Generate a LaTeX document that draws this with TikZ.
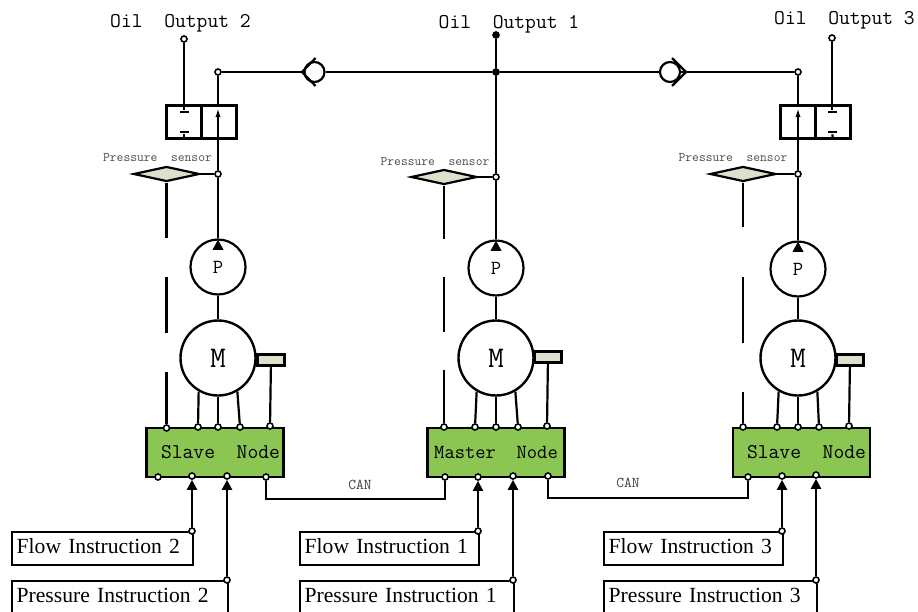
\documentclass[tikz,border=0pt]{standalone}
\usepackage{fontspec}
\setmainfont{Liberation Serif}
\usetikzlibrary{shapes.geometric,arrows.meta}
\definecolor{nodegreen}{RGB}{139,197,82}
\definecolor{sensorgrey}{RGB}{221,224,205}
\begin{document}
\begin{tikzpicture}[x=1pt,y=-1pt,line width=2.2pt]
        \tikzset{
            ctrl/.style={draw,line width=2.4pt,fill=nodegreen,minimum width=137pt,minimum height=49pt,inner sep=0pt,font=\ttfamily\fontsize{21}{21}\selectfont},
            instr/.style={draw,line width=2.4pt,anchor=north west,minimum height=33pt,inner xsep=4.5pt,inner ysep=0pt,align=left,text height=14pt,text depth=4pt,font=\fontsize{21.6}{21.6}\selectfont},
            pump/.style={circle,draw,fill=white,minimum size=55pt,inner sep=0pt,font=\ttfamily\fontsize{20}{20}\selectfont},
            motor/.style={circle,draw,line width=2.4pt,fill=white,minimum size=75pt,inner sep=0pt,font=\ttfamily\fontsize{30}{30}\selectfont},
            sensor/.style={diamond,draw,line width=2.2pt,fill=sensorgrey,aspect=4.2,minimum width=66pt,minimum height=15pt,inner sep=0pt},
            encoder/.style={rectangle,draw,line width=2.4pt,fill=sensorgrey,minimum width=27pt,minimum height=11pt,inner sep=0pt},
            valve/.style={rectangle,draw,line width=2.4pt,minimum width=35pt,minimum height=33pt,inner sep=0pt},
            check/.style={circle,draw,fill=white,minimum size=20pt,inner sep=0pt},
            port/.style={circle,draw,fill=white,line width=1.6pt,minimum size=6pt,inner sep=0pt},
            tee/.style={rectangle,fill=black,minimum width=9pt,minimum height=2.4pt,inner sep=0pt},
            tip/.style={isosceles triangle,isosceles triangle stretches,shape border rotate=90,fill=black,minimum width=11pt,minimum height=10pt,inner sep=0pt},
            title/.style={font=\ttfamily\fontsize{21}{21}\selectfont,inner sep=0pt},
            small/.style={font=\ttfamily\fontsize{13.2}{13.2}\selectfont,text=black!70,inner sep=0pt},
            canlabel/.style={font=\ttfamily\fontsize{15}{15}\selectfont,text=black!75,inner sep=0pt},
            c1/.style={-},
            c2/.style={-{Triangle[length=10pt,width=10pt]}},
            c3/.style={-{Latex[length=10pt,width=5pt]}}
            }
        \useasboundingbox (0,0) rectangle (918,611);

        % left unit
        \node[title] (t2) at (180.5,23) {Oil\ \ Output 2};
        \node[port] (o2) at (184,39) {};
        \node[port] (j2) at (218,72) {};
        \node[valve] (v2a) at (184,122) {};
        \node[valve] (v2b) at (219,122) {};
        \node[tee] (u2a) at (184,112) {};
        \node[tee] (u2b) at (184,132) {};
        \coordinate (a2) at (218,107);
        \node[sensor] (s2) at (166.5,174) {};
        \node[small] (l2) at (157.5,158) {Pressure\ \ sensor};
        \node[port] (q2) at (218,174) {};
        \node[pump] (p2) at (218,267) {P};
        \node[tip] (h2) at (218,246.5) {};
        \node[encoder] (e2) at (271,360) {};
        \node[motor] (m2) at (218,358) {M};
        \node[ctrl] (c2) at (215,452.5) {\hspace*{11pt}Slave\ \ Node};
        \node[port] (w2a) at (166.5,428) {};
        \node[port] (w2b) at (198,427) {};
        \node[port] (w2c) at (218,427) {};
        \node[port] (w2d) at (240,427) {};
        \node[port] (w2e) at (270,426) {};
        \node[port] (x2a) at (158,477) {};
        \node[port] (x2b) at (192,476) {};
        \node[port] (x2c) at (227,476) {};
        \node[port] (x2d) at (266,477) {};
        \node[instr,text width=172pt] (f2) at (11,531) {Flow Instruction 2};
        \node[instr,text width=207pt] (i2) at (11,580) {Pressure Instruction 2};
        \node[port] (y2a) at (192,531) {};
        \node[port] (y2b) at (227,580) {};

        % middle unit
        \node[title] (t1) at (509,24) {Oil\ \ Output 1};
        \node[port,fill=black] (o1) at (496,35) {};
        \node[port,fill=black] (j1) at (496,72) {};
        \node[sensor] (s1) at (444,177) {};
        \node[small] (l1) at (435,161.5) {Pressure\ \ sensor};
        \node[port] (q1) at (496,177) {};
        \node[pump] (p1) at (496,268) {P};
        \node[tip] (h1) at (496,247.5) {};
        \node[encoder] (e1) at (548,357) {};
        \node[motor] (m1) at (496,358) {M};
        \node[ctrl] (c1) at (496,452.5) {\fontsize{20}{20}\selectfont Master\ \ Node};
        \node[port] (w1a) at (444,427) {};
        \node[port] (w1b) at (475,427) {};
        \node[port] (w1c) at (496,427) {};
        \node[port] (w1d) at (518,427) {};
        \node[port] (w1e) at (547,426) {};
        \node[port] (x1a) at (445,477) {};
        \node[port] (x1b) at (478,477) {};
        \node[port] (x1c) at (513,476) {};
        \node[port] (x1d) at (548,476) {};
        \node[instr,text width=170pt] (f1) at (299,531) {Flow Instruction 1};
        \node[instr,text width=205pt] (i1) at (299,580) {Pressure Instruction 1};
        \node[port] (y1a) at (478,531) {};
        \node[port] (y1b) at (513,580) {};

        % right unit
        \node[title] (t3) at (844.5,20) {Oil\ \ Output 3};
        \node[port] (o3) at (832,38) {};
        \node[port] (j3) at (798,72) {};
        \node[valve] (v3a) at (798,122) {};
        \node[valve] (v3b) at (833,122) {};
        \node[tee] (u3a) at (832,112) {};
        \node[tee] (u3b) at (832,132) {};
        \coordinate (a3) at (798,107);
        \node[sensor] (s3) at (743,174) {};
        \node[small] (l3) at (733,158) {Pressure\ \ sensor};
        \node[port] (q3) at (798,174) {};
        \node[pump] (p3) at (798,269) {P};
        \node[tip] (h3) at (798,248.5) {};
        \node[encoder] (e3) at (850,360) {};
        \node[motor] (m3) at (798,358) {M};
        \node[ctrl] (c3) at (801.5,452.5) {\hspace*{10pt}Slave\ \ Node};
        \node[port] (w3a) at (743,427) {};
        \node[port] (w3b) at (777,427) {};
        \node[port] (w3c) at (798,427) {};
        \node[port] (w3d) at (819,427) {};
        \node[port] (w3e) at (849,426) {};
        \node[port] (x3a) at (748,477) {};
        \node[port] (x3b) at (782,476) {};
        \node[port] (x3c) at (816,475) {};
        \node[instr,text width=170pt] (f3) at (603,531) {Flow Instruction 3};
        \node[instr,text width=204pt] (i3) at (603,580) {Pressure Instruction 3};
        \node[port] (y3a) at (782,531) {};
        \node[port] (y3b) at (816,580) {};

        % shared oil line and can bus
        \node[check] (k2) at (314.5,72) {};
        \node[check] (k3) at (670,72) {};
        \node[canlabel] (n1) at (360,485) {CAN};
        \node[canlabel] (n2) at (628,483) {CAN};
        \coordinate (b1) at (266,499);
        \coordinate (b2) at (445,499);
        \coordinate (b3) at (548,498);
        \coordinate (b4) at (748,498);

        \draw[c1] (k2.center)+(1,-14) -- +(-12.5,0) -- +(1,14);
        \draw[c1] (k3.center)+(2,-14) -- +(16,0) -- +(2,14);
        \draw[c1] (j2) -- (k2);
        \draw[c1] (k2) -- (j1);
        \draw[c1] (j1) -- (k3);
        \draw[c1] (k3) -- (j3);
        \draw[c1] (o1) -- (j1);
        \draw[c1] (j1) -- (q1);
        \draw[c1] (x2d) -- (b1) -- (b2) -- (x1a);
        \draw[c1] (x1d) -- (b3) -- (b4) -- (x3a);

        \draw[c1] (o2) -- (u2a);
        \draw[c1] (u2b) -- (v2a.south);
        \draw[c3] (q2) -- (a2);
        \draw[c1] (a2) -- (j2);
        \draw[c1] (s2) -- (q2);
        \draw[c1] (q2) -- (p2);
        \draw[c1] (p2) -- (m2);
        \draw[c1,dash pattern=on 55pt off 39pt on 56pt off 39pt on 60pt] (s2.south) -- (w2a);
        \draw[c1] (m2.240) -- (w2b);
        \draw[c1] (m2) -- (w2c);
        \draw[c1] (m2.300) -- (w2d);
        \draw[c1] (e2) -- (w2e);
        \draw[c2] (y2a) -- (x2b);
        \draw[c2] (y2b) -- (x2c);

        \draw[c1] (q1) -- (p1);
        \draw[c1] (s1) -- (q1);
        \draw[c1] (p1) -- (m1);
        \draw[c1,dash pattern=on 53pt off 38pt on 55pt off 38pt on 60pt] (s1.south) -- (w1a);
        \draw[c1] (m1.240) -- (w1b);
        \draw[c1] (m1) -- (w1c);
        \draw[c1] (m1.300) -- (w1d);
        \draw[c1] (e1) -- (w1e);
        \draw[c2] (y1a) -- (x1b);
        \draw[c2] (y1b) -- (x1c);

        \draw[c1] (o3) -- (u3a);
        \draw[c1] (u3b) -- (v3b.south);
        \draw[c3] (q3) -- (a3);
        \draw[c1] (a3) -- (j3);
        \draw[c1] (s3) -- (q3);
        \draw[c1] (q3) -- (p3);
        \draw[c1] (p3) -- (m3);
        \draw[c1,dash pattern=on 44pt off 50pt on 66pt off 49pt on 60pt] (s3.south) -- (w3a);
        \draw[c1] (m3.240) -- (w3b);
        \draw[c1] (m3) -- (w3c);
        \draw[c1] (m3.300) -- (w3d);
        \draw[c1] (e3) -- (w3e);
        \draw[c2] (y3a) -- (x3b);
        \draw[c2] (y3b) -- (x3c);
\end{tikzpicture}
\end{document}
